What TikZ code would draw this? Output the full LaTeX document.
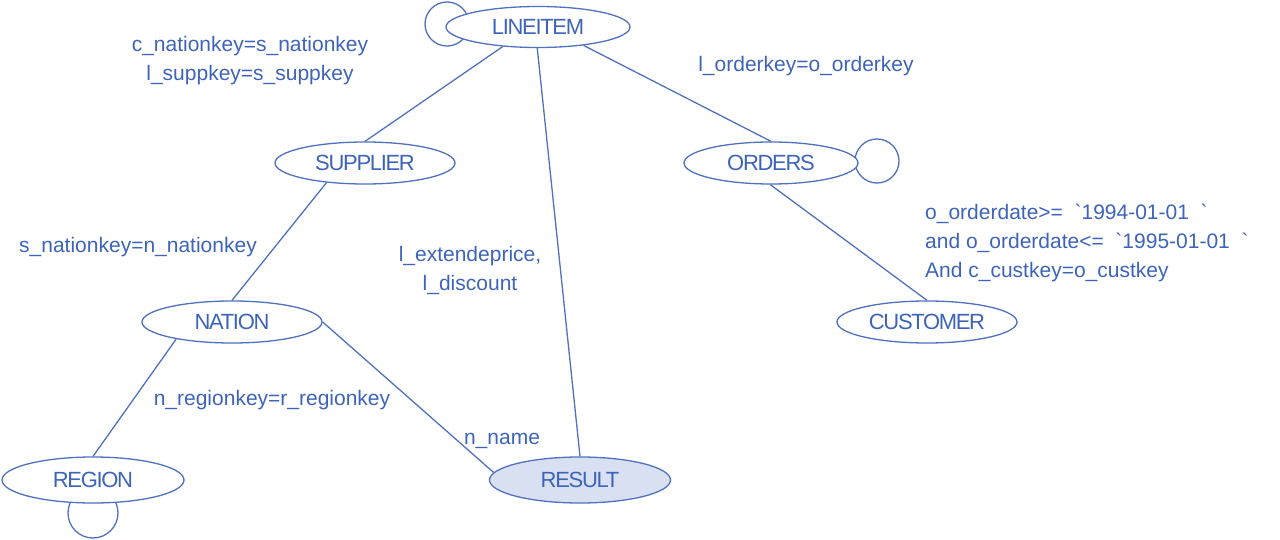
\documentclass[tikz,border=0pt]{standalone}
\usepackage{fontspec}
\setmainfont{Liberation Sans}
\newfontfamily\nodefont{Liberation Sans}[LetterSpace=-6]
\newfontfamily\labfont{Liberation Sans}
\usetikzlibrary{shapes.geometric,backgrounds}
\definecolor{lineblue}{HTML}{4F71BE}
\definecolor{textblue}{HTML}{3E64B9}
\definecolor{resfill}{HTML}{D9E0F2}
\begin{document}
\begin{tikzpicture}[x=1pt,y=-1pt,
  rel/.style={ellipse,draw=lineblue,line width=1.3pt,fill=white,inner sep=0pt,
    minimum width=180pt,minimum height=42pt,text=textblue,
    font=\nodefont\fontsize{22}{24}\selectfont},
  conn/.style={draw=lineblue,line width=1.3pt},
  loopc/.style={draw=lineblue,line width=1.3pt},
  lab/.style={text=textblue,font=\labfont\fontsize{21}{29}\selectfont,inner sep=0pt}]
\useasboundingbox (0,0) rectangle (1280,540);

\node[rel,minimum width=184pt,minimum height=41pt] (lineitem) at (538,27) {LINEITEM};
\node[rel] (supplier) at (365,163) {SUPPLIER};
\node[rel,minimum width=174pt] (orders) at (771,163) {ORDERS};
\node[rel] (nation) at (232,322) {NATION};
\node[rel] (customer) at (927,322) {CUSTOMER};
\node[rel,minimum width=182pt,minimum height=46pt] (region) at (93,480) {REGION};
\node[rel,fill=resfill,minimum width=181pt,minimum height=46pt] (result) at (580,480) {RESULT};

\begin{scope}[on background layer]
  \draw[loopc] (447,24) circle (22pt);
  \draw[loopc] (877,161) circle (22pt);
  \draw[loopc] (93,513) circle (25pt);
\end{scope}

\draw[conn] (lineitem.209) -- (supplier.north);
\draw[conn] (lineitem.268) -- (result.north);
\draw[conn] (lineitem.338) -- (orders.north);
\draw[conn] (supplier.207) -- (nation.north);
\draw[conn] (orders.268) -- (customer.north);
\draw[conn] (nation.197) -- (region.north);
\draw[conn] (nation.east) -- (result.175);

\node[lab,align=center] (l1) at (250,61) {c\_nationkey=s\_nationkey\\l\_suppkey=s\_suppkey};
\node[lab] (l2) at (806,66) {l\_orderkey=o\_orderkey};
\node[lab] (l3) at (138,247) {s\_nationkey=n\_nationkey};
\node[lab,align=center] (l4) at (470,270) {l\_extendeprice,\\l\_discount};
\node[lab,align=left,anchor=west] (l5) at (925,243) {o\_orderdate>=\ \ \textasciigrave1994-01-01\ \ \textasciigrave\\and o\_orderdate<=\ \ \textasciigrave1995-01-01\ \ \textasciigrave\\And c\_custkey=o\_custkey};
\node[lab] (l6) at (272,400) {n\_regionkey=r\_regionkey};
\node[lab] (l7) at (502,441) {n\_name};
\end{tikzpicture}
\end{document}
